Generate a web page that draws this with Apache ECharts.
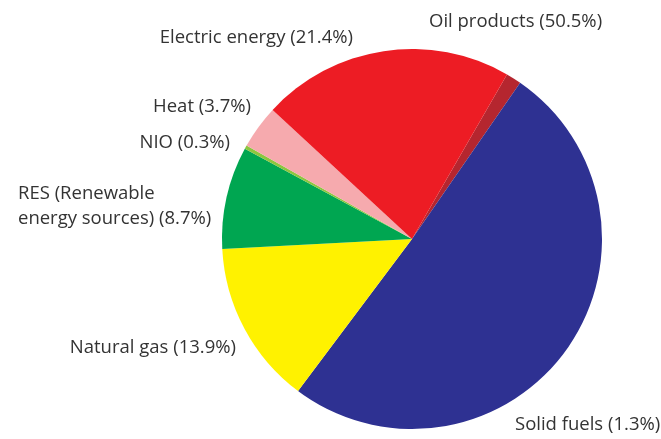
<!DOCTYPE html>
<html>
<head>
<meta charset="utf-8">
<script src="https://cdn.jsdelivr.net/npm/echarts@6/dist/echarts.min.js"></script>
<style>
html,body{margin:0;padding:0;background:#fff;}
#chart{width:661px;height:439px;}
</style>
</head>
<body>
<div id="chart"></div>
<script>
// Slices in clockwise order starting at the small dark-red slice (top right)
var categories = ['Oil products', 'Solid fuels', 'Natural gas', 'RES (Renewable energy sources)', 'NIO', 'Heat', 'Electric energy'];
var values = [1.3, 50.5, 13.9, 8.7, 0.3, 3.7, 21.4];
// Label texts exactly as printed on the reference
var labelTexts = [
  'Oil products (50.5%)',
  'Solid fuels (1.3%)',
  'Natural gas (13.9%)',
  'RES (Renewable\nenergy sources) (8.7%)',
  'NIO (0.3%)',
  'Heat (3.7%)',
  'Electric energy (21.4%)'
];

// Presentation (colours and label placement)
var colors = ['#b5262f', '#2e3192', '#fff200', '#00a651', '#8dc63f', '#f6aaae', '#ed1c24'];
var labelX = [429, 515, 236, 18, 230, 251, 353];
var labelY = [22, 425, 348, 206, 143, 107, 38];
var labelAlign = ['left', 'left', 'right', 'left', 'right', 'right', 'right'];

var chart = echarts.init(document.getElementById('chart'), null, {renderer: 'canvas'});
var data = categories.map(function (c, i) {
  return {name: c, value: values[i], itemStyle: {color: colors[i]}};
});
chart.setOption({
  animation: false,
  backgroundColor: '#ffffff',
  series: [{
    type: 'pie',
    center: [412, 239],
    radius: [0, 190],
    startAngle: 60,
    clockwise: true,
    avoidLabelOverlap: false,
    data: data,
    itemStyle: {borderWidth: 0},
    label: {
      show: true,
      position: 'outside',
      formatter: function (p) { return labelTexts[p.dataIndex]; },
      color: '#333333',
      fontFamily: 'Open Sans',
      fontSize: 18.5,
      lineHeight: 25
    },
    labelLine: {show: false},
    labelLayout: function (p) {
      var i = p.dataIndex;
      return {x: labelX[i], y: labelY[i], align: labelAlign[i], verticalAlign: 'middle'};
    },
    emphasis: {disabled: true}
  }]
});
</script>
</body>
</html>
